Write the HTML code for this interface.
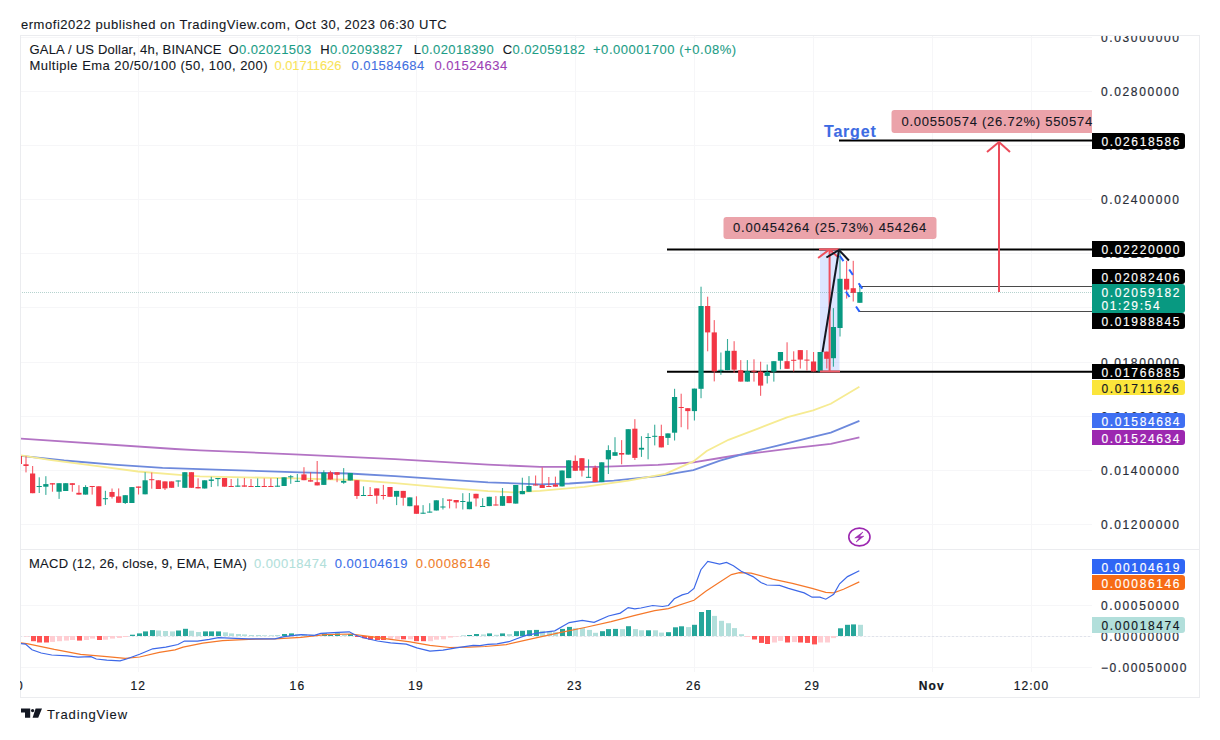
<!DOCTYPE html>
<html><head><meta charset="utf-8"><style>
html,body{margin:0;padding:0;background:#fff;width:1220px;height:740px;overflow:hidden;position:relative}
*{font-family:"Liberation Sans",sans-serif}
.t{position:absolute;white-space:nowrap;font-size:13px;line-height:16px;color:#131722;-webkit-text-stroke:0.1px currentColor}
.ax{position:absolute;left:1101px;font-size:12px;line-height:19px;letter-spacing:1.62px;color:#2a2e39;white-space:nowrap;-webkit-text-stroke:0.2px currentColor}
.lb{position:absolute;left:1092px;width:93px;padding-left:9.5px;box-sizing:border-box;font-size:12px;letter-spacing:1.62px;border-radius:0 3px 3px 0;white-space:nowrap;-webkit-text-stroke:0.15px currentColor}
.tm{position:absolute;top:678px;font-size:12px;line-height:16px;color:#131722;white-space:nowrap;transform:translateX(-50%);letter-spacing:1.1px;-webkit-text-stroke:0.2px currentColor}
svg{position:absolute;left:0;top:0}
</style></head><body>
<svg width="1220" height="740" viewBox="0 0 1220 740">
<line x1="20" y1="37.5" x2="1092" y2="37.5" stroke="#f6f6f8" stroke-width="1"/>
<line x1="20" y1="91.5" x2="1092" y2="91.5" stroke="#f6f6f8" stroke-width="1"/>
<line x1="20" y1="145.5" x2="1092" y2="145.5" stroke="#f6f6f8" stroke-width="1"/>
<line x1="20" y1="199.5" x2="1092" y2="199.5" stroke="#f6f6f8" stroke-width="1"/>
<line x1="20" y1="253.5" x2="1092" y2="253.5" stroke="#f6f6f8" stroke-width="1"/>
<line x1="20" y1="307.5" x2="1092" y2="307.5" stroke="#f6f6f8" stroke-width="1"/>
<line x1="20" y1="362.5" x2="1092" y2="362.5" stroke="#f6f6f8" stroke-width="1"/>
<line x1="20" y1="416.5" x2="1092" y2="416.5" stroke="#f6f6f8" stroke-width="1"/>
<line x1="20" y1="470.5" x2="1092" y2="470.5" stroke="#f6f6f8" stroke-width="1"/>
<line x1="20" y1="524.5" x2="1092" y2="524.5" stroke="#f6f6f8" stroke-width="1"/>
<line x1="20" y1="605.5" x2="1092" y2="605.5" stroke="#f6f6f8" stroke-width="1"/>
<line x1="20" y1="636.5" x2="1092" y2="636.5" stroke="#f6f6f8" stroke-width="1"/>
<line x1="20" y1="667.5" x2="1092" y2="667.5" stroke="#f6f6f8" stroke-width="1"/>
<line x1="138.5" y1="35" x2="138.5" y2="672" stroke="#f6f6f8" stroke-width="1"/>
<line x1="297.5" y1="35" x2="297.5" y2="672" stroke="#f6f6f8" stroke-width="1"/>
<line x1="416.5" y1="35" x2="416.5" y2="672" stroke="#f6f6f8" stroke-width="1"/>
<line x1="575.5" y1="35" x2="575.5" y2="672" stroke="#f6f6f8" stroke-width="1"/>
<line x1="694.5" y1="35" x2="694.5" y2="672" stroke="#f6f6f8" stroke-width="1"/>
<line x1="813.5" y1="35" x2="813.5" y2="672" stroke="#f6f6f8" stroke-width="1"/>
<line x1="932.5" y1="35" x2="932.5" y2="672" stroke="#f6f6f8" stroke-width="1"/>
<line x1="1031.5" y1="35" x2="1031.5" y2="672" stroke="#f6f6f8" stroke-width="1"/>
<rect x="20.5" y="35.5" width="1179" height="662" fill="none" stroke="#ebecef" stroke-width="1"/>
<line x1="20" y1="549.5" x2="1200" y2="549.5" stroke="#ebecef" stroke-width="1"/>
<defs><clipPath id="cm"><rect x="21" y="36" width="1071" height="513"/></clipPath><clipPath id="cd"><rect x="21" y="550" width="1071" height="122"/></clipPath></defs>
<g clip-path="url(#cm)">
<rect x="820" y="249" width="19.5" height="122" fill="#2962ff" fill-opacity="0.16"/>
<polyline points="20.0,438.6 175.0,449.0 200.0,450.3 300.0,454.6 395.0,459.2 488.0,464.6 540.0,466.9 599.0,466.9 658.0,464.8 693.4,462.4 720.0,458.0 738.4,455.0 797.4,447.7 830.8,443.8 859.4,437.3" fill="none" stroke="#b373c4" stroke-width="1.8"/>
<polyline points="20.0,455.8 64.2,460.5 113.4,464.6 162.5,467.9 215.0,469.6 300.0,472.4 349.0,473.5 395.0,476.2 488.0,482.4 540.0,484.3 569.5,483.5 613.8,480.6 658.0,476.1 693.4,470.2 720.0,460.7 748.2,452.6 777.7,445.7 813.1,436.9 830.8,432.6 859.4,420.8" fill="none" stroke="#6d89dc" stroke-width="1.8"/>
<polyline points="20.0,455.3 49.5,459.8 93.8,465.6 138.0,471.5 182.3,475.2 200.0,476.3 295.0,478.4 354.5,480.0 395.0,483.2 442.0,487.3 488.0,491.1 512.4,492.3 540.0,490.9 584.3,486.9 628.5,480.6 665.4,473.9 693.4,461.4 706.7,451.0 728.5,439.8 758.0,428.6 787.6,417.2 813.1,410.3 830.8,403.8 859.4,386.7" fill="none" stroke="#f6eb92" stroke-width="1.8"/>
<line x1="667" y1="249.5" x2="1092" y2="249.5" stroke="#000" stroke-width="2"/>
<line x1="667" y1="371.7" x2="1092" y2="371.7" stroke="#000" stroke-width="2"/>
<line x1="839" y1="140.5" x2="1092" y2="140.5" stroke="#000" stroke-width="2"/>
<line x1="859" y1="286.5" x2="1092" y2="286.5" stroke="#4a4a4a" stroke-width="1"/>
<line x1="859" y1="311.5" x2="1092" y2="311.5" stroke="#4a4a4a" stroke-width="1"/>
<rect x="18.83" y="456.0" width="1.1" height="8.0" fill="#f23645" fill-opacity="0.8"/>
<rect x="16.78" y="456.0" width="5.2" height="8.0" fill="#f23645"/>
<rect x="25.45" y="456.2" width="1.1" height="16.2" fill="#f23645" fill-opacity="0.8"/>
<rect x="23.40" y="464.3" width="5.2" height="1.7" fill="#f23645"/>
<rect x="32.07" y="466.0" width="1.1" height="27.2" fill="#f23645" fill-opacity="0.8"/>
<rect x="30.02" y="473.5" width="5.2" height="19.7" fill="#f23645"/>
<rect x="38.69" y="477.3" width="1.1" height="15.7" fill="#089981" fill-opacity="0.8"/>
<rect x="36.64" y="486.0" width="5.2" height="1.0" fill="#089981"/>
<rect x="45.30" y="476.2" width="1.1" height="18.7" fill="#089981" fill-opacity="0.8"/>
<rect x="43.25" y="484.1" width="5.2" height="2.6" fill="#089981"/>
<rect x="51.92" y="483.2" width="1.1" height="8.5" fill="#f23645" fill-opacity="0.8"/>
<rect x="49.87" y="483.2" width="5.2" height="1.3" fill="#f23645"/>
<rect x="58.54" y="483.2" width="1.1" height="15.7" fill="#089981" fill-opacity="0.8"/>
<rect x="56.49" y="483.2" width="5.2" height="8.5" fill="#089981"/>
<rect x="65.16" y="483.2" width="1.1" height="7.8" fill="#089981" fill-opacity="0.8"/>
<rect x="63.11" y="483.2" width="5.2" height="7.8" fill="#089981"/>
<rect x="71.78" y="483.2" width="1.1" height="8.5" fill="#f23645" fill-opacity="0.8"/>
<rect x="69.73" y="483.2" width="5.2" height="1.7" fill="#f23645"/>
<rect x="78.39" y="485.2" width="1.1" height="9.4" fill="#f23645" fill-opacity="0.8"/>
<rect x="76.34" y="492.8" width="5.2" height="1.8" fill="#f23645"/>
<rect x="85.01" y="485.2" width="1.1" height="9.4" fill="#089981" fill-opacity="0.8"/>
<rect x="82.96" y="487.0" width="5.2" height="7.6" fill="#089981"/>
<rect x="91.63" y="486.0" width="1.1" height="8.6" fill="#f23645" fill-opacity="0.8"/>
<rect x="89.58" y="486.0" width="5.2" height="1.0" fill="#f23645"/>
<rect x="98.25" y="486.3" width="1.1" height="19.9" fill="#f23645" fill-opacity="0.8"/>
<rect x="96.20" y="486.3" width="5.2" height="19.9" fill="#f23645"/>
<rect x="104.87" y="490.8" width="1.1" height="14.1" fill="#089981" fill-opacity="0.8"/>
<rect x="102.82" y="498.2" width="5.2" height="1.0" fill="#089981"/>
<rect x="111.48" y="488.5" width="1.1" height="10.0" fill="#f23645" fill-opacity="0.8"/>
<rect x="109.43" y="492.0" width="5.2" height="4.8" fill="#f23645"/>
<rect x="118.10" y="488.4" width="1.1" height="14.4" fill="#f23645" fill-opacity="0.8"/>
<rect x="116.05" y="496.4" width="5.2" height="6.4" fill="#f23645"/>
<rect x="124.72" y="495.2" width="1.1" height="8.8" fill="#089981" fill-opacity="0.8"/>
<rect x="122.67" y="495.2" width="5.2" height="7.8" fill="#089981"/>
<rect x="131.34" y="487.1" width="1.1" height="15.9" fill="#089981" fill-opacity="0.8"/>
<rect x="129.29" y="487.1" width="5.2" height="15.9" fill="#089981"/>
<rect x="137.96" y="486.5" width="1.1" height="8.0" fill="#f23645" fill-opacity="0.8"/>
<rect x="135.91" y="486.5" width="5.2" height="1.3" fill="#f23645"/>
<rect x="144.57" y="472.2" width="1.1" height="22.1" fill="#089981" fill-opacity="0.8"/>
<rect x="142.52" y="480.3" width="5.2" height="14.0" fill="#089981"/>
<rect x="151.19" y="472.5" width="1.1" height="16.2" fill="#f23645" fill-opacity="0.8"/>
<rect x="149.14" y="479.2" width="5.2" height="1.0" fill="#f23645"/>
<rect x="157.81" y="480.3" width="1.1" height="8.7" fill="#f23645" fill-opacity="0.8"/>
<rect x="155.76" y="480.3" width="5.2" height="8.7" fill="#f23645"/>
<rect x="164.43" y="481.4" width="1.1" height="8.6" fill="#f23645" fill-opacity="0.8"/>
<rect x="162.38" y="481.4" width="5.2" height="7.0" fill="#f23645"/>
<rect x="171.05" y="481.4" width="1.1" height="6.4" fill="#f23645" fill-opacity="0.8"/>
<rect x="169.00" y="481.4" width="5.2" height="6.4" fill="#f23645"/>
<rect x="177.66" y="480.5" width="1.1" height="6.3" fill="#089981" fill-opacity="0.8"/>
<rect x="175.61" y="480.5" width="5.2" height="1.0" fill="#089981"/>
<rect x="184.28" y="472.2" width="1.1" height="15.6" fill="#089981" fill-opacity="0.8"/>
<rect x="182.23" y="472.2" width="5.2" height="15.6" fill="#089981"/>
<rect x="190.90" y="472.2" width="1.1" height="15.6" fill="#f23645" fill-opacity="0.8"/>
<rect x="188.85" y="472.2" width="5.2" height="15.6" fill="#f23645"/>
<rect x="197.52" y="478.3" width="1.1" height="10.1" fill="#f23645" fill-opacity="0.8"/>
<rect x="195.47" y="487.0" width="5.2" height="1.4" fill="#f23645"/>
<rect x="204.14" y="480.3" width="1.1" height="8.2" fill="#089981" fill-opacity="0.8"/>
<rect x="202.09" y="480.3" width="5.2" height="8.2" fill="#089981"/>
<rect x="210.75" y="476.8" width="1.1" height="10.2" fill="#089981" fill-opacity="0.8"/>
<rect x="208.70" y="479.5" width="5.2" height="1.4" fill="#089981"/>
<rect x="217.37" y="478.0" width="1.1" height="8.3" fill="#089981" fill-opacity="0.8"/>
<rect x="215.32" y="478.0" width="5.2" height="1.1" fill="#089981"/>
<rect x="223.99" y="478.0" width="1.1" height="8.7" fill="#f23645" fill-opacity="0.8"/>
<rect x="221.94" y="478.0" width="5.2" height="8.7" fill="#f23645"/>
<rect x="230.61" y="479.0" width="1.1" height="8.0" fill="#f23645" fill-opacity="0.8"/>
<rect x="228.56" y="486.0" width="5.2" height="1.0" fill="#f23645"/>
<rect x="237.23" y="478.4" width="1.1" height="8.3" fill="#089981" fill-opacity="0.8"/>
<rect x="235.18" y="485.6" width="5.2" height="1.1" fill="#089981"/>
<rect x="243.84" y="478.0" width="1.1" height="8.7" fill="#f23645" fill-opacity="0.8"/>
<rect x="241.79" y="485.4" width="5.2" height="1.3" fill="#f23645"/>
<rect x="250.46" y="479.0" width="1.1" height="8.0" fill="#f23645" fill-opacity="0.8"/>
<rect x="248.41" y="486.0" width="5.2" height="1.0" fill="#f23645"/>
<rect x="257.08" y="478.4" width="1.1" height="8.6" fill="#089981" fill-opacity="0.8"/>
<rect x="255.03" y="486.0" width="5.2" height="1.0" fill="#089981"/>
<rect x="263.70" y="478.4" width="1.1" height="8.6" fill="#f23645" fill-opacity="0.8"/>
<rect x="261.65" y="486.0" width="5.2" height="1.0" fill="#f23645"/>
<rect x="270.32" y="478.4" width="1.1" height="8.6" fill="#f23645" fill-opacity="0.8"/>
<rect x="268.27" y="486.0" width="5.2" height="1.0" fill="#f23645"/>
<rect x="276.93" y="478.0" width="1.1" height="8.7" fill="#089981" fill-opacity="0.8"/>
<rect x="274.88" y="485.7" width="5.2" height="1.0" fill="#089981"/>
<rect x="283.55" y="477.3" width="1.1" height="8.7" fill="#089981" fill-opacity="0.8"/>
<rect x="281.50" y="477.3" width="5.2" height="8.7" fill="#089981"/>
<rect x="290.17" y="475.1" width="1.1" height="8.7" fill="#089981" fill-opacity="0.8"/>
<rect x="288.12" y="476.3" width="5.2" height="1.0" fill="#089981"/>
<rect x="296.79" y="474.0" width="1.1" height="7.8" fill="#089981" fill-opacity="0.8"/>
<rect x="294.74" y="480.8" width="5.2" height="1.0" fill="#089981"/>
<rect x="303.41" y="467.2" width="1.1" height="13.0" fill="#f23645" fill-opacity="0.8"/>
<rect x="301.36" y="474.4" width="5.2" height="5.8" fill="#f23645"/>
<rect x="310.02" y="472.4" width="1.1" height="9.2" fill="#f23645" fill-opacity="0.8"/>
<rect x="307.97" y="480.2" width="5.2" height="1.4" fill="#f23645"/>
<rect x="316.64" y="461.0" width="1.1" height="24.4" fill="#f23645" fill-opacity="0.8"/>
<rect x="314.59" y="482.2" width="5.2" height="3.2" fill="#f23645"/>
<rect x="323.26" y="470.3" width="1.1" height="14.6" fill="#089981" fill-opacity="0.8"/>
<rect x="321.21" y="472.6" width="5.2" height="12.3" fill="#089981"/>
<rect x="329.88" y="470.8" width="1.1" height="8.7" fill="#f23645" fill-opacity="0.8"/>
<rect x="327.83" y="472.4" width="5.2" height="7.1" fill="#f23645"/>
<rect x="336.50" y="472.2" width="1.1" height="10.0" fill="#f23645" fill-opacity="0.8"/>
<rect x="334.45" y="472.2" width="5.2" height="2.6" fill="#f23645"/>
<rect x="343.11" y="468.1" width="1.1" height="15.7" fill="#089981" fill-opacity="0.8"/>
<rect x="341.06" y="480.9" width="5.2" height="1.8" fill="#089981"/>
<rect x="349.73" y="473.0" width="1.1" height="7.5" fill="#089981" fill-opacity="0.8"/>
<rect x="347.68" y="473.0" width="5.2" height="7.5" fill="#089981"/>
<rect x="356.35" y="480.2" width="1.1" height="18.7" fill="#f23645" fill-opacity="0.8"/>
<rect x="354.30" y="480.2" width="5.2" height="15.8" fill="#f23645"/>
<rect x="362.97" y="486.3" width="1.1" height="9.7" fill="#089981" fill-opacity="0.8"/>
<rect x="360.92" y="495.0" width="5.2" height="1.0" fill="#089981"/>
<rect x="369.59" y="487.0" width="1.1" height="9.0" fill="#f23645" fill-opacity="0.8"/>
<rect x="367.54" y="495.0" width="5.2" height="1.0" fill="#f23645"/>
<rect x="376.20" y="488.4" width="1.1" height="15.4" fill="#f23645" fill-opacity="0.8"/>
<rect x="374.15" y="488.4" width="5.2" height="7.3" fill="#f23645"/>
<rect x="382.82" y="484.9" width="1.1" height="14.6" fill="#f23645" fill-opacity="0.8"/>
<rect x="380.77" y="495.0" width="5.2" height="1.0" fill="#f23645"/>
<rect x="389.44" y="487.0" width="1.1" height="9.8" fill="#f23645" fill-opacity="0.8"/>
<rect x="387.39" y="487.0" width="5.2" height="9.8" fill="#f23645"/>
<rect x="396.06" y="490.9" width="1.1" height="14.2" fill="#089981" fill-opacity="0.8"/>
<rect x="394.01" y="490.9" width="5.2" height="5.8" fill="#089981"/>
<rect x="402.68" y="490.9" width="1.1" height="14.8" fill="#f23645" fill-opacity="0.8"/>
<rect x="400.63" y="490.9" width="5.2" height="6.9" fill="#f23645"/>
<rect x="409.29" y="497.4" width="1.1" height="8.8" fill="#089981" fill-opacity="0.8"/>
<rect x="407.24" y="497.4" width="5.2" height="8.8" fill="#089981"/>
<rect x="415.91" y="496.3" width="1.1" height="17.5" fill="#f23645" fill-opacity="0.8"/>
<rect x="413.86" y="505.4" width="5.2" height="8.4" fill="#f23645"/>
<rect x="422.53" y="505.1" width="1.1" height="8.6" fill="#089981" fill-opacity="0.8"/>
<rect x="420.48" y="512.7" width="5.2" height="1.0" fill="#089981"/>
<rect x="429.15" y="503.2" width="1.1" height="9.3" fill="#089981" fill-opacity="0.8"/>
<rect x="427.10" y="511.6" width="5.2" height="1.0" fill="#089981"/>
<rect x="435.77" y="500.3" width="1.1" height="10.2" fill="#089981" fill-opacity="0.8"/>
<rect x="433.72" y="500.3" width="5.2" height="10.2" fill="#089981"/>
<rect x="442.38" y="498.1" width="1.1" height="11.4" fill="#089981" fill-opacity="0.8"/>
<rect x="440.33" y="506.5" width="5.2" height="1.0" fill="#089981"/>
<rect x="449.00" y="499.5" width="1.1" height="8.9" fill="#f23645" fill-opacity="0.8"/>
<rect x="446.95" y="499.5" width="5.2" height="1.3" fill="#f23645"/>
<rect x="455.62" y="500.0" width="1.1" height="8.4" fill="#f23645" fill-opacity="0.8"/>
<rect x="453.57" y="500.0" width="5.2" height="2.4" fill="#f23645"/>
<rect x="462.24" y="493.2" width="1.1" height="16.3" fill="#089981" fill-opacity="0.8"/>
<rect x="460.19" y="501.0" width="5.2" height="1.0" fill="#089981"/>
<rect x="468.86" y="493.0" width="1.1" height="16.2" fill="#089981" fill-opacity="0.8"/>
<rect x="466.81" y="501.7" width="5.2" height="7.5" fill="#089981"/>
<rect x="475.47" y="493.8" width="1.1" height="12.6" fill="#f23645" fill-opacity="0.8"/>
<rect x="473.42" y="493.8" width="5.2" height="4.6" fill="#f23645"/>
<rect x="482.09" y="498.2" width="1.1" height="8.8" fill="#089981" fill-opacity="0.8"/>
<rect x="480.04" y="506.0" width="5.2" height="1.0" fill="#089981"/>
<rect x="488.71" y="496.8" width="1.1" height="9.3" fill="#089981" fill-opacity="0.8"/>
<rect x="486.66" y="496.8" width="5.2" height="9.3" fill="#089981"/>
<rect x="495.33" y="496.1" width="1.1" height="9.4" fill="#f23645" fill-opacity="0.8"/>
<rect x="493.28" y="504.5" width="5.2" height="1.0" fill="#f23645"/>
<rect x="501.95" y="488.0" width="1.1" height="17.8" fill="#089981" fill-opacity="0.8"/>
<rect x="499.90" y="496.1" width="5.2" height="9.7" fill="#089981"/>
<rect x="508.56" y="496.1" width="1.1" height="7.0" fill="#f23645" fill-opacity="0.8"/>
<rect x="506.51" y="496.1" width="5.2" height="7.0" fill="#f23645"/>
<rect x="515.18" y="485.0" width="1.1" height="18.6" fill="#089981" fill-opacity="0.8"/>
<rect x="513.13" y="485.0" width="5.2" height="18.6" fill="#089981"/>
<rect x="521.80" y="477.7" width="1.1" height="16.5" fill="#089981" fill-opacity="0.8"/>
<rect x="519.75" y="491.0" width="5.2" height="3.2" fill="#089981"/>
<rect x="528.42" y="476.1" width="1.1" height="15.7" fill="#089981" fill-opacity="0.8"/>
<rect x="526.37" y="486.0" width="5.2" height="5.8" fill="#089981"/>
<rect x="535.04" y="475.5" width="1.1" height="10.0" fill="#f23645" fill-opacity="0.8"/>
<rect x="532.99" y="484.5" width="5.2" height="1.0" fill="#f23645"/>
<rect x="541.65" y="467.4" width="1.1" height="20.6" fill="#f23645" fill-opacity="0.8"/>
<rect x="539.60" y="485.0" width="5.2" height="3.0" fill="#f23645"/>
<rect x="548.27" y="477.0" width="1.1" height="10.0" fill="#f23645" fill-opacity="0.8"/>
<rect x="546.22" y="486.0" width="5.2" height="1.0" fill="#f23645"/>
<rect x="554.89" y="476.6" width="1.1" height="10.1" fill="#f23645" fill-opacity="0.8"/>
<rect x="552.84" y="484.5" width="5.2" height="2.2" fill="#f23645"/>
<rect x="561.51" y="470.5" width="1.1" height="15.9" fill="#089981" fill-opacity="0.8"/>
<rect x="559.46" y="470.5" width="5.2" height="15.9" fill="#089981"/>
<rect x="568.13" y="460.3" width="1.1" height="17.8" fill="#089981" fill-opacity="0.8"/>
<rect x="566.08" y="460.3" width="5.2" height="17.8" fill="#089981"/>
<rect x="574.74" y="455.4" width="1.1" height="15.4" fill="#f23645" fill-opacity="0.8"/>
<rect x="572.69" y="460.9" width="5.2" height="9.9" fill="#f23645"/>
<rect x="581.36" y="458.2" width="1.1" height="18.3" fill="#f23645" fill-opacity="0.8"/>
<rect x="579.31" y="458.2" width="5.2" height="12.4" fill="#f23645"/>
<rect x="587.98" y="459.4" width="1.1" height="18.4" fill="#089981" fill-opacity="0.8"/>
<rect x="585.93" y="476.8" width="5.2" height="1.0" fill="#089981"/>
<rect x="594.60" y="465.5" width="1.1" height="16.6" fill="#f23645" fill-opacity="0.8"/>
<rect x="592.55" y="467.6" width="5.2" height="14.5" fill="#f23645"/>
<rect x="601.22" y="462.3" width="1.1" height="19.8" fill="#089981" fill-opacity="0.8"/>
<rect x="599.17" y="462.3" width="5.2" height="19.8" fill="#089981"/>
<rect x="607.83" y="445.3" width="1.1" height="28.7" fill="#089981" fill-opacity="0.8"/>
<rect x="605.78" y="450.1" width="5.2" height="9.3" fill="#089981"/>
<rect x="614.45" y="437.2" width="1.1" height="18.6" fill="#089981" fill-opacity="0.8"/>
<rect x="612.40" y="452.2" width="5.2" height="3.6" fill="#089981"/>
<rect x="621.07" y="440.1" width="1.1" height="24.2" fill="#f23645" fill-opacity="0.8"/>
<rect x="619.02" y="453.0" width="5.2" height="1.6" fill="#f23645"/>
<rect x="627.69" y="429.2" width="1.1" height="25.4" fill="#089981" fill-opacity="0.8"/>
<rect x="625.64" y="429.2" width="5.2" height="25.4" fill="#089981"/>
<rect x="634.31" y="419.2" width="1.1" height="40.8" fill="#f23645" fill-opacity="0.8"/>
<rect x="632.26" y="428.7" width="5.2" height="29.2" fill="#f23645"/>
<rect x="640.92" y="436.2" width="1.1" height="20.7" fill="#089981" fill-opacity="0.8"/>
<rect x="638.87" y="447.8" width="5.2" height="1.8" fill="#089981"/>
<rect x="647.54" y="433.2" width="1.1" height="26.1" fill="#089981" fill-opacity="0.8"/>
<rect x="645.49" y="437.0" width="5.2" height="1.0" fill="#089981"/>
<rect x="654.16" y="424.7" width="1.1" height="20.7" fill="#089981" fill-opacity="0.8"/>
<rect x="652.11" y="435.8" width="5.2" height="1.0" fill="#089981"/>
<rect x="660.78" y="424.7" width="1.1" height="22.7" fill="#f23645" fill-opacity="0.8"/>
<rect x="658.73" y="436.0" width="5.2" height="11.4" fill="#f23645"/>
<rect x="667.40" y="433.4" width="1.1" height="11.6" fill="#089981" fill-opacity="0.8"/>
<rect x="665.35" y="433.4" width="5.2" height="4.5" fill="#089981"/>
<rect x="674.01" y="388.8" width="1.1" height="51.7" fill="#089981" fill-opacity="0.8"/>
<rect x="671.96" y="397.0" width="5.2" height="35.7" fill="#089981"/>
<rect x="680.63" y="393.7" width="1.1" height="33.5" fill="#f23645" fill-opacity="0.8"/>
<rect x="678.58" y="407.0" width="5.2" height="1.0" fill="#f23645"/>
<rect x="687.25" y="408.2" width="1.1" height="21.2" fill="#f23645" fill-opacity="0.8"/>
<rect x="685.20" y="408.2" width="5.2" height="2.9" fill="#f23645"/>
<rect x="693.87" y="388.6" width="1.1" height="31.9" fill="#089981" fill-opacity="0.8"/>
<rect x="691.82" y="388.6" width="5.2" height="22.5" fill="#089981"/>
<rect x="700.49" y="286.7" width="1.1" height="111.5" fill="#089981" fill-opacity="0.8"/>
<rect x="698.44" y="306.0" width="5.2" height="82.8" fill="#089981"/>
<rect x="707.10" y="296.7" width="1.1" height="54.6" fill="#f23645" fill-opacity="0.8"/>
<rect x="705.05" y="306.0" width="5.2" height="26.4" fill="#f23645"/>
<rect x="713.72" y="320.1" width="1.1" height="61.3" fill="#f23645" fill-opacity="0.8"/>
<rect x="711.67" y="332.4" width="5.2" height="39.0" fill="#f23645"/>
<rect x="720.34" y="352.5" width="1.1" height="22.3" fill="#089981" fill-opacity="0.8"/>
<rect x="718.29" y="369.8" width="5.2" height="1.0" fill="#089981"/>
<rect x="726.96" y="339.0" width="1.1" height="31.2" fill="#089981" fill-opacity="0.8"/>
<rect x="724.91" y="350.8" width="5.2" height="19.4" fill="#089981"/>
<rect x="733.58" y="341.2" width="1.1" height="31.8" fill="#f23645" fill-opacity="0.8"/>
<rect x="731.53" y="350.8" width="5.2" height="18.9" fill="#f23645"/>
<rect x="740.19" y="360.1" width="1.1" height="21.5" fill="#f23645" fill-opacity="0.8"/>
<rect x="738.14" y="370.2" width="5.2" height="11.4" fill="#f23645"/>
<rect x="746.81" y="360.1" width="1.1" height="21.5" fill="#089981" fill-opacity="0.8"/>
<rect x="744.76" y="371.2" width="5.2" height="10.4" fill="#089981"/>
<rect x="753.43" y="359.3" width="1.1" height="22.3" fill="#f23645" fill-opacity="0.8"/>
<rect x="751.38" y="370.7" width="5.2" height="1.0" fill="#f23645"/>
<rect x="760.05" y="361.7" width="1.1" height="34.1" fill="#f23645" fill-opacity="0.8"/>
<rect x="758.00" y="371.6" width="5.2" height="14.0" fill="#f23645"/>
<rect x="766.67" y="364.5" width="1.1" height="19.0" fill="#089981" fill-opacity="0.8"/>
<rect x="764.62" y="372.1" width="5.2" height="3.8" fill="#089981"/>
<rect x="773.28" y="361.2" width="1.1" height="20.4" fill="#089981" fill-opacity="0.8"/>
<rect x="771.23" y="361.2" width="5.2" height="10.4" fill="#089981"/>
<rect x="779.90" y="352.0" width="1.1" height="17.3" fill="#089981" fill-opacity="0.8"/>
<rect x="777.85" y="352.0" width="5.2" height="8.7" fill="#089981"/>
<rect x="786.52" y="342.3" width="1.1" height="26.5" fill="#f23645" fill-opacity="0.8"/>
<rect x="784.47" y="361.2" width="5.2" height="7.6" fill="#f23645"/>
<rect x="793.14" y="351.3" width="1.1" height="20.3" fill="#f23645" fill-opacity="0.8"/>
<rect x="791.09" y="359.8" width="5.2" height="1.0" fill="#f23645"/>
<rect x="799.76" y="350.1" width="1.1" height="18.5" fill="#f23645" fill-opacity="0.8"/>
<rect x="797.71" y="350.1" width="5.2" height="9.5" fill="#f23645"/>
<rect x="806.37" y="350.1" width="1.1" height="20.4" fill="#f23645" fill-opacity="0.8"/>
<rect x="804.32" y="359.6" width="5.2" height="1.0" fill="#f23645"/>
<rect x="812.99" y="352.0" width="1.1" height="19.5" fill="#f23645" fill-opacity="0.8"/>
<rect x="810.94" y="361.5" width="5.2" height="10.0" fill="#f23645"/>
<rect x="819.61" y="352.0" width="1.1" height="19.5" fill="#089981" fill-opacity="0.8"/>
<rect x="817.56" y="352.0" width="5.2" height="19.5" fill="#089981"/>
<rect x="826.23" y="351.6" width="1.1" height="16.9" fill="#f23645" fill-opacity="0.8"/>
<rect x="824.18" y="351.6" width="5.2" height="7.2" fill="#f23645"/>
<rect x="832.85" y="308.1" width="1.1" height="58.6" fill="#089981" fill-opacity="0.8"/>
<rect x="830.80" y="327.0" width="5.2" height="31.2" fill="#089981"/>
<rect x="839.46" y="249.5" width="1.1" height="87.0" fill="#089981" fill-opacity="0.8"/>
<rect x="837.41" y="278.8" width="5.2" height="49.2" fill="#089981"/>
<rect x="846.08" y="260.8" width="1.1" height="37.8" fill="#f23645" fill-opacity="0.8"/>
<rect x="844.03" y="278.8" width="5.2" height="10.8" fill="#f23645"/>
<rect x="852.70" y="260.8" width="1.1" height="40.7" fill="#f23645" fill-opacity="0.8"/>
<rect x="850.65" y="288.2" width="5.2" height="4.8" fill="#f23645"/>
<rect x="859.32" y="284.5" width="1.1" height="18.3" fill="#089981" fill-opacity="0.8"/>
<rect x="857.27" y="292.0" width="5.2" height="10.8" fill="#089981"/>
<line x1="20" y1="292.5" x2="1092" y2="292.5" stroke="#5a9e94" stroke-opacity="0.45" stroke-width="1" stroke-dasharray="1,1"/>
<line x1="829.6" y1="371" x2="829.6" y2="250" stroke="#ef4f5c" stroke-width="2"/>
<polyline points="818.1,258 829.4,249.5 838.6,257.6" fill="none" stroke="#ef4f5c" stroke-width="2"/>
<line x1="819" y1="249.3" x2="839" y2="249.3" stroke="#ef5b67" stroke-width="2"/>
<line x1="820" y1="371.5" x2="840" y2="371.5" stroke="#ef5b67" stroke-width="2"/>
<line x1="999" y1="292" x2="999" y2="142" stroke="#ec4b5a" stroke-width="2"/>
<polyline points="987,152 999,142 1010,152" fill="none" stroke="#ec4b5a" stroke-width="2"/>
<line x1="822.5" y1="352" x2="839" y2="250" stroke="#131722" stroke-width="2"/>
<polyline points="826.4,257.5 839,250 848.9,260.5" fill="none" stroke="#131722" stroke-width="2"/>
<line x1="839.8" y1="255.7" x2="863.5" y2="290.4" stroke="#2962ff" stroke-width="2" stroke-dasharray="6.5,10.2"/>
<line x1="845.9" y1="291.6" x2="859.5" y2="311.6" stroke="#2962ff" stroke-width="2" stroke-dasharray="6.5,11.5"/>
<rect x="723.5" y="217" width="213" height="22" rx="3" fill="#eba3aa"/>
<rect x="891.5" y="110" width="210" height="23" rx="3" fill="#eba3aa"/>
</g>
<g clip-path="url(#cd)">
<line x1="20" y1="636.5" x2="1092" y2="636.5" stroke="#e0e3eb" stroke-width="1" stroke-dasharray="2,2"/>
<rect x="24" y="636.0" width="5" height="0.6" fill="#ffcdd2"/>
<rect x="31" y="636.0" width="5" height="5.2" fill="#ff5252"/>
<rect x="37" y="636.0" width="5" height="6.5" fill="#ff5252"/>
<rect x="44" y="636.0" width="5" height="6.5" fill="#ff5252"/>
<rect x="50" y="636.0" width="5" height="5.9" fill="#ffcdd2"/>
<rect x="57" y="636.0" width="5" height="5.2" fill="#ffcdd2"/>
<rect x="64" y="636.0" width="5" height="4.6" fill="#ffcdd2"/>
<rect x="70" y="636.0" width="5" height="4.0" fill="#ffcdd2"/>
<rect x="77" y="636.0" width="5" height="4.6" fill="#ff5252"/>
<rect x="84" y="636.0" width="5" height="4.0" fill="#ffcdd2"/>
<rect x="90" y="636.0" width="5" height="2.6" fill="#ffcdd2"/>
<rect x="97" y="636.0" width="5" height="4.0" fill="#ff5252"/>
<rect x="103" y="636.0" width="5" height="3.7" fill="#ffcdd2"/>
<rect x="110" y="636.0" width="5" height="2.6" fill="#ffcdd2"/>
<rect x="117" y="636.0" width="5" height="2.0" fill="#ffcdd2"/>
<rect x="123" y="636.0" width="5" height="1.0" fill="#ffcdd2"/>
<rect x="130" y="634.7" width="5" height="1.3" fill="#26a69a"/>
<rect x="137" y="633.4" width="5" height="2.6" fill="#26a69a"/>
<rect x="143" y="631.4" width="5" height="4.6" fill="#26a69a"/>
<rect x="150" y="630.1" width="5" height="5.9" fill="#26a69a"/>
<rect x="156" y="630.5" width="5" height="5.5" fill="#b2dfdb"/>
<rect x="163" y="631.0" width="5" height="5.0" fill="#b2dfdb"/>
<rect x="170" y="631.4" width="5" height="4.6" fill="#b2dfdb"/>
<rect x="176" y="630.5" width="5" height="5.5" fill="#26a69a"/>
<rect x="183" y="628.8" width="5" height="7.2" fill="#26a69a"/>
<rect x="189" y="630.7" width="5" height="5.3" fill="#b2dfdb"/>
<rect x="196" y="632.0" width="5" height="4.0" fill="#b2dfdb"/>
<rect x="203" y="631.4" width="5" height="4.6" fill="#26a69a"/>
<rect x="209" y="631.4" width="5" height="4.6" fill="#26a69a"/>
<rect x="216" y="631.4" width="5" height="4.6" fill="#26a69a"/>
<rect x="223" y="632.3" width="5" height="3.7" fill="#b2dfdb"/>
<rect x="229" y="633.4" width="5" height="2.6" fill="#b2dfdb"/>
<rect x="236" y="634.0" width="5" height="2.0" fill="#b2dfdb"/>
<rect x="242" y="634.4" width="5" height="1.6" fill="#b2dfdb"/>
<rect x="249" y="635.0" width="5" height="1.0" fill="#b2dfdb"/>
<rect x="256" y="635.0" width="5" height="1.0" fill="#b2dfdb"/>
<rect x="262" y="635.3" width="5" height="0.7" fill="#b2dfdb"/>
<rect x="269" y="635.3" width="5" height="0.7" fill="#b2dfdb"/>
<rect x="275" y="635.0" width="5" height="1.0" fill="#b2dfdb"/>
<rect x="282" y="634.0" width="5" height="2.0" fill="#26a69a"/>
<rect x="289" y="633.4" width="5" height="2.6" fill="#26a69a"/>
<rect x="295" y="634.0" width="5" height="2.0" fill="#b2dfdb"/>
<rect x="302" y="634.4" width="5" height="1.6" fill="#b2dfdb"/>
<rect x="309" y="634.7" width="5" height="1.3" fill="#b2dfdb"/>
<rect x="315" y="635.3" width="5" height="0.7" fill="#b2dfdb"/>
<rect x="322" y="633.4" width="5" height="2.6" fill="#26a69a"/>
<rect x="328" y="634.0" width="5" height="2.0" fill="#26a69a"/>
<rect x="335" y="633.4" width="5" height="2.6" fill="#26a69a"/>
<rect x="342" y="634.7" width="5" height="1.3" fill="#b2dfdb"/>
<rect x="348" y="634.0" width="5" height="2.0" fill="#26a69a"/>
<rect x="355" y="636.0" width="5" height="1.0" fill="#ff5252"/>
<rect x="362" y="636.0" width="5" height="2.3" fill="#ff5252"/>
<rect x="368" y="636.0" width="5" height="3.7" fill="#ff5252"/>
<rect x="375" y="636.0" width="5" height="4.0" fill="#ff5252"/>
<rect x="381" y="636.0" width="5" height="4.0" fill="#ff5252"/>
<rect x="388" y="636.0" width="5" height="3.3" fill="#ffcdd2"/>
<rect x="395" y="636.0" width="5" height="3.3" fill="#ffcdd2"/>
<rect x="401" y="636.0" width="5" height="3.3" fill="#ff5252"/>
<rect x="408" y="636.0" width="5" height="3.3" fill="#ffcdd2"/>
<rect x="414" y="636.0" width="5" height="5.2" fill="#ff5252"/>
<rect x="421" y="636.0" width="5" height="5.2" fill="#ff5252"/>
<rect x="428" y="636.0" width="5" height="5.2" fill="#ffcdd2"/>
<rect x="434" y="636.0" width="5" height="3.7" fill="#ffcdd2"/>
<rect x="441" y="636.0" width="5" height="3.3" fill="#ffcdd2"/>
<rect x="448" y="636.0" width="5" height="1.6" fill="#ffcdd2"/>
<rect x="454" y="636.0" width="5" height="0.6" fill="#ffcdd2"/>
<rect x="461" y="635.3" width="5" height="0.7" fill="#b2dfdb"/>
<rect x="467" y="635.0" width="5" height="1.0" fill="#26a69a"/>
<rect x="474" y="634.0" width="5" height="2.0" fill="#26a69a"/>
<rect x="481" y="634.4" width="5" height="1.6" fill="#b2dfdb"/>
<rect x="487" y="633.4" width="5" height="2.6" fill="#26a69a"/>
<rect x="494" y="634.8" width="5" height="1.2" fill="#b2dfdb"/>
<rect x="500" y="633.4" width="5" height="2.6" fill="#26a69a"/>
<rect x="507" y="634.1" width="5" height="1.9" fill="#b2dfdb"/>
<rect x="514" y="631.2" width="5" height="4.8" fill="#26a69a"/>
<rect x="520" y="630.8" width="5" height="5.2" fill="#26a69a"/>
<rect x="527" y="630.2" width="5" height="5.8" fill="#26a69a"/>
<rect x="534" y="629.9" width="5" height="6.1" fill="#26a69a"/>
<rect x="540" y="630.8" width="5" height="5.2" fill="#b2dfdb"/>
<rect x="547" y="631.5" width="5" height="4.5" fill="#b2dfdb"/>
<rect x="553" y="632.1" width="5" height="3.9" fill="#b2dfdb"/>
<rect x="560" y="628.9" width="5" height="7.1" fill="#26a69a"/>
<rect x="567" y="626.9" width="5" height="9.1" fill="#26a69a"/>
<rect x="573" y="628.2" width="5" height="7.8" fill="#b2dfdb"/>
<rect x="580" y="628.2" width="5" height="7.8" fill="#b2dfdb"/>
<rect x="587" y="629.9" width="5" height="6.1" fill="#b2dfdb"/>
<rect x="593" y="632.8" width="5" height="3.2" fill="#b2dfdb"/>
<rect x="600" y="631.2" width="5" height="4.8" fill="#26a69a"/>
<rect x="606" y="629.1" width="5" height="6.9" fill="#26a69a"/>
<rect x="613" y="628.9" width="5" height="7.1" fill="#26a69a"/>
<rect x="620" y="629.1" width="5" height="6.9" fill="#b2dfdb"/>
<rect x="626" y="626.2" width="5" height="9.8" fill="#26a69a"/>
<rect x="633" y="629.1" width="5" height="6.9" fill="#b2dfdb"/>
<rect x="639" y="630.3" width="5" height="5.7" fill="#b2dfdb"/>
<rect x="646" y="630.3" width="5" height="5.7" fill="#26a69a"/>
<rect x="653" y="630.3" width="5" height="5.7" fill="#b2dfdb"/>
<rect x="659" y="632.6" width="5" height="3.4" fill="#b2dfdb"/>
<rect x="666" y="632.2" width="5" height="3.8" fill="#26a69a"/>
<rect x="673" y="627.3" width="5" height="8.7" fill="#26a69a"/>
<rect x="679" y="626.3" width="5" height="9.7" fill="#26a69a"/>
<rect x="686" y="627.1" width="5" height="8.9" fill="#b2dfdb"/>
<rect x="692" y="624.8" width="5" height="11.2" fill="#26a69a"/>
<rect x="699" y="612.0" width="5" height="24.0" fill="#26a69a"/>
<rect x="706" y="610.0" width="5" height="26.0" fill="#26a69a"/>
<rect x="712" y="615.9" width="5" height="20.1" fill="#b2dfdb"/>
<rect x="719" y="620.8" width="5" height="15.2" fill="#b2dfdb"/>
<rect x="726" y="623.2" width="5" height="12.8" fill="#b2dfdb"/>
<rect x="732" y="628.1" width="5" height="7.9" fill="#b2dfdb"/>
<rect x="739" y="634.2" width="5" height="1.8" fill="#b2dfdb"/>
<rect x="745" y="636.0" width="5" height="1.0" fill="#ffcdd2"/>
<rect x="752" y="636.0" width="5" height="3.5" fill="#ff5252"/>
<rect x="759" y="636.0" width="5" height="6.9" fill="#ff5252"/>
<rect x="765" y="636.0" width="5" height="8.0" fill="#ff5252"/>
<rect x="772" y="636.0" width="5" height="6.5" fill="#ffcdd2"/>
<rect x="778" y="636.0" width="5" height="4.9" fill="#ffcdd2"/>
<rect x="785" y="636.0" width="5" height="6.5" fill="#ff5252"/>
<rect x="792" y="636.0" width="5" height="6.1" fill="#ffcdd2"/>
<rect x="798" y="636.0" width="5" height="6.5" fill="#ff5252"/>
<rect x="805" y="636.0" width="5" height="6.9" fill="#ff5252"/>
<rect x="812" y="636.0" width="5" height="8.4" fill="#ff5252"/>
<rect x="818" y="636.0" width="5" height="6.5" fill="#ffcdd2"/>
<rect x="825" y="636.0" width="5" height="6.5" fill="#ffcdd2"/>
<rect x="831" y="636.0" width="5" height="2.1" fill="#ffcdd2"/>
<rect x="838" y="628.3" width="5" height="7.7" fill="#26a69a"/>
<rect x="845" y="624.8" width="5" height="11.2" fill="#26a69a"/>
<rect x="851" y="624.4" width="5" height="11.6" fill="#26a69a"/>
<rect x="858" y="624.8" width="5" height="11.2" fill="#b2dfdb"/>
<polyline points="20.9,642.8 28.1,643.9 54.3,649.4 80.6,654.3 106.8,656.7 125.2,658.3 139.6,657.0 159.3,652.4 175.0,649.8 183.1,647.1 202.8,643.2 222.5,640.6 248.7,639.3 274.9,638.9 301.1,637.3 325.0,634.7 351.2,634.0 370.9,636.6 390.6,639.3 410.2,641.9 429.9,645.4 449.6,647.5 469.3,647.1 485.0,646.5 506.2,644.6 532.5,638.7 558.7,632.8 584.9,627.5 611.1,621.6 635.0,615.3 654.7,610.6 668.4,608.6 694.0,600.2 705.8,591.3 717.6,583.4 731.4,574.6 739.3,572.6 751.1,573.2 772.7,579.1 792.4,583.4 812.1,588.4 825.8,592.3 833.7,592.9 843.5,589.3 859.3,581.9" fill="none" stroke="#f5782a" stroke-width="1.2"/>
<polyline points="20.9,643.6 25.5,644.1 32.0,649.8 41.2,653.0 51.7,655.0 67.5,655.9 78.0,657.2 91.0,656.7 96.3,659.0 106.8,660.2 120.0,660.9 126.5,659.0 139.6,654.3 152.7,648.8 165.8,647.1 177.9,644.5 184.4,641.0 197.5,641.2 209.3,639.3 218.5,637.6 235.6,638.3 248.7,638.9 274.9,638.9 284.1,636.6 301.1,634.7 314.3,635.3 320.8,633.4 338.1,632.3 349.3,631.8 355.2,635.0 364.3,638.0 377.5,641.0 390.6,642.8 406.3,644.1 416.8,647.8 429.9,651.1 443.0,650.1 456.1,647.8 473.2,645.4 480.0,645.6 487.9,644.3 497.0,643.9 508.9,641.7 516.7,638.7 525.9,635.4 539.0,632.8 554.8,630.8 569.2,622.6 582.3,620.3 594.1,622.3 608.5,616.0 620.3,613.1 628.2,607.6 634.8,608.9 640.9,608.0 652.7,605.5 662.5,606.5 668.4,605.5 674.3,598.8 682.2,594.9 688.1,593.3 694.0,588.4 700.9,569.7 707.8,561.4 719.6,564.2 726.5,562.4 733.4,565.7 741.2,571.2 753.0,576.6 760.9,582.5 766.8,585.0 779.6,585.4 788.5,588.4 804.2,592.9 812.1,597.2 819.9,597.2 825.8,599.2 833.7,594.3 839.6,583.8 847.5,576.6 859.3,570.7" fill="none" stroke="#3d68e8" stroke-width="1.2"/>
</g>
<ellipse cx="859.4" cy="537" rx="10.6" ry="8.9" fill="none" stroke="#9c27b0" stroke-width="1.6"/>
<path d="M862.9 532 L854.8 538 L859.6 537.4 L856.2 542 L863.8 536.2 L859.2 536.8 Z" fill="#9c27b0" stroke="#9c27b0" stroke-width="0.6" stroke-linejoin="round"/>
<path d="M21 708.6 H30.2 V717.7 H25 V712.6 H21 Z" fill="#131722"/>
<circle cx="32.6" cy="710.6" r="1.6" fill="#131722"/>
<path d="M35.6 708.6 H42 L38.2 717.7 H32.6 Z" fill="#131722"/>
</svg>
<div class="t" style="left:21px;top:17px;font-size:13px;letter-spacing:0.53px">ermofi2022 published on TradingView.com, Oct 30, 2023 06:30 UTC</div>
<div class="t" style="left:29.5px;top:42px;letter-spacing:0.2px">GALA / US Dollar, 4h, BINANCE</div>
<div class="t" style="left:228.5px;top:42px;letter-spacing:0.4px">O<span style="color:#1c9d86">0.02021503</span></div>
<div class="t" style="left:320.3px;top:42px;letter-spacing:0.4px">H<span style="color:#1c9d86">0.02093827</span></div>
<div class="t" style="left:413.8px;top:42px;letter-spacing:0.4px">L<span style="color:#1c9d86">0.02018390</span></div>
<div class="t" style="left:502.8px;top:42px;letter-spacing:0.4px">C<span style="color:#1c9d86">0.02059182</span></div>
<div class="t" style="left:593px;top:42px;letter-spacing:0.53px;color:#1c9d86">+0.00001700 (+0.08%)</div>
<div class="t" style="left:29.5px;top:58px;letter-spacing:0.47px">Multiple Ema 20/50/100 (50, 100, 200)</div>
<div class="t" style="left:274.6px;top:58px;letter-spacing:-0.1px;color:#f9e45a">0.01711626</div>
<div class="t" style="left:351.5px;top:58px;letter-spacing:0.45px;color:#3f6fe0">0.01584684</div>
<div class="t" style="left:434.4px;top:58px;letter-spacing:0.45px;color:#9c3fb5">0.01524634</div>
<div class="t" style="left:29px;top:556px;letter-spacing:0.26px">MACD (12, 26, close, 9, EMA, EMA)</div>
<div class="t" style="left:253.9px;top:556px;letter-spacing:0.45px;color:#b2dfdb">0.00018474</div>
<div class="t" style="left:334.8px;top:556px;letter-spacing:0.45px;color:#3a6ee8">0.00104619</div>
<div class="t" style="left:415.8px;top:556px;letter-spacing:0.65px;color:#ef7d2a">0.00086146</div>
<div class="t" style="left:733px;top:220px;letter-spacing:0.85px">0.00454264 (25.73%) 454264</div>
<div class="t" style="left:901.5px;top:114px;letter-spacing:0.75px">0.00550574 (26.72%) 550574</div>
<div class="t" style="left:824px;top:122.5px;font-size:16px;line-height:18px;font-weight:bold;color:#3c6be3;letter-spacing:0.8px">Target</div>
<div class="tm" style="left:138.2px">12</div>
<div class="tm" style="left:297.4px">16</div>
<div class="tm" style="left:416.1px">19</div>
<div class="tm" style="left:574.7px">23</div>
<div class="tm" style="left:693.7px">26</div>
<div class="tm" style="left:812.3px">29</div>
<div class="tm" style="left:931.8px;font-weight:bold">Nov</div>
<div class="tm" style="left:1031.4px">12:00</div>
<div style="position:absolute;left:20px;top:670px;width:10px;height:25px;overflow:hidden"><div class="tm" style="left:0px;top:8px">0</div></div>
<div style="position:absolute;left:1092px;top:35.5px;width:107px;height:20px;overflow:hidden"><div class="ax" style="left:9px;top:-6.5px">0.03000000</div></div>
<div class="ax" style="top:83.0px">0.02800000</div>
<div class="ax" style="top:137.0px">0.02600000</div>
<div class="ax" style="top:299.0px">0.02000000</div>
<div class="ax" style="top:191.0px">0.02400000</div>
<div class="ax" style="top:354.0px">0.01800000</div>
<div class="ax" style="top:462.0px">0.01400000</div>
<div class="ax" style="top:516.0px">0.01200000</div>
<div class="ax" style="top:597.0px">0.00050000</div>
<div class="ax" style="top:628.0px">0.00000000</div>
<div class="ax" style="top:659.0px;left:1101px;letter-spacing:1.5px">&minus;0.00050000</div>
<div class="ax" style="top:245.0px">0.02200000</div>
<div class="ax" style="top:408.0px">0.01600000</div>
<div class="lb" style="top:133.0px;height:16.0px;line-height:19.0px;background:#000;color:#fff">0.02618586</div>
<div class="lb" style="top:241.0px;height:16.0px;line-height:19.0px;background:#000;color:#fff">0.02220000</div>
<div class="lb" style="top:269.0px;height:15.0px;line-height:18.0px;background:#000;color:#fff">0.02082406</div>
<div class="lb" style="top:284px;height:29px;background:#089981;color:#fff;line-height:13.5px;padding-top:2.5px;box-sizing:border-box">0.02059182<br>01:29:54</div>
<div class="lb" style="top:313.0px;height:16.0px;line-height:19.0px;background:#000;color:#fff">0.01988845</div>
<div class="lb" style="top:364.0px;height:15.0px;line-height:18.0px;background:#000;color:#fff">0.01766885</div>
<div class="lb" style="top:380.0px;height:15.0px;line-height:18.0px;background:#fbe53b;color:#131722">0.01711626</div>
<div class="lb" style="top:413.0px;height:15.0px;line-height:18.0px;background:#3f6ff2;color:#fff">0.01584684</div>
<div class="lb" style="top:430.0px;height:15.0px;line-height:18.0px;background:#9c27b0;color:#fff">0.01524634</div>
<div class="lb" style="top:559.0px;height:15.0px;line-height:18.0px;background:#2f66f5;color:#fff">0.00104619</div>
<div class="lb" style="top:575.0px;height:15.0px;line-height:18.0px;background:#f76b15;color:#fff">0.00086146</div>
<div class="lb" style="top:617.0px;height:15.5px;line-height:18.5px;background:#b2dfdb;color:#131722">0.00018474</div>
<div class="t" style="left:47px;top:706.5px;font-size:13px;letter-spacing:0.85px">TradingView</div>
</body></html>
